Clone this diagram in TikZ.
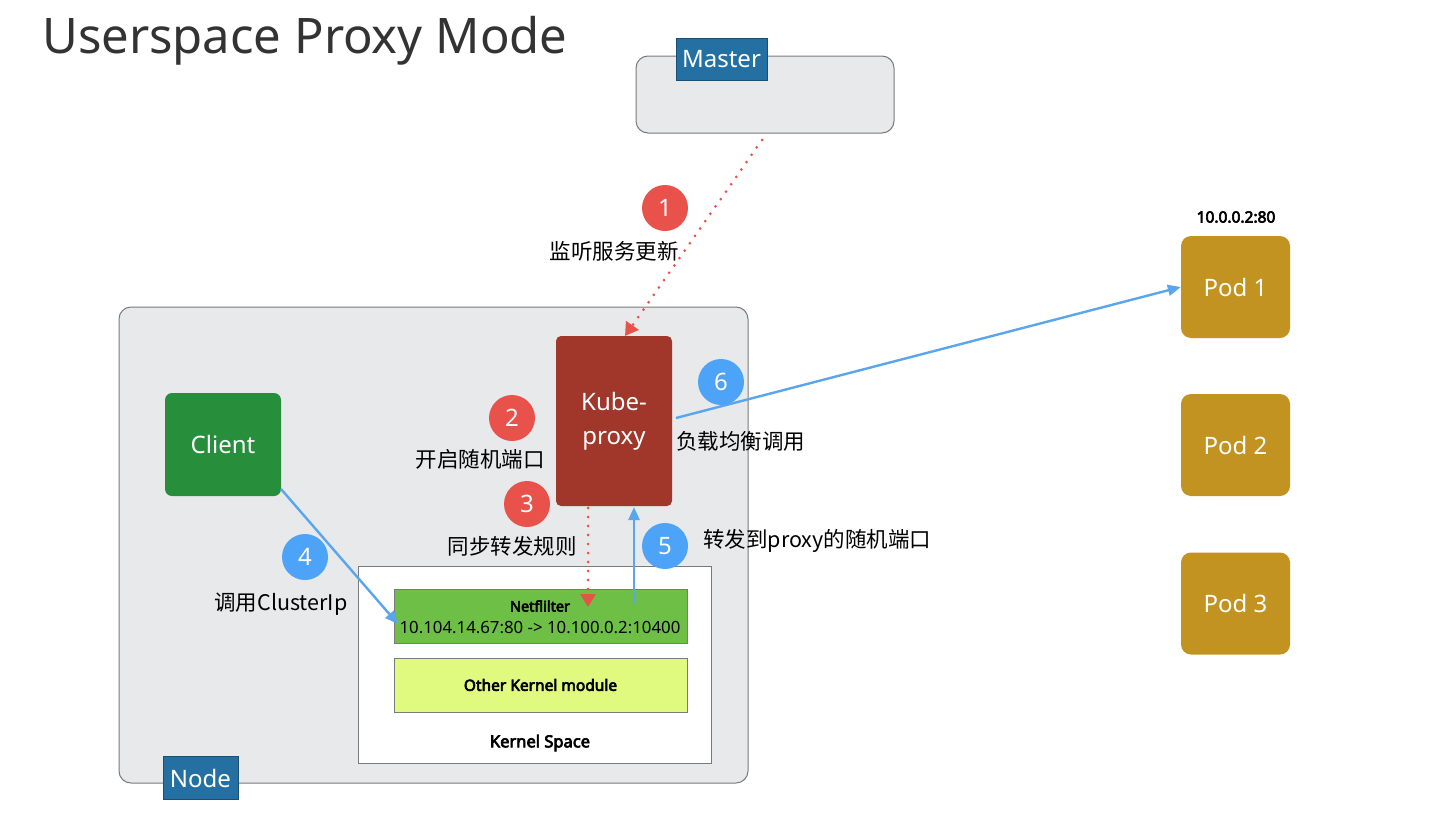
\documentclass[tikz,border=0pt]{standalone}
\usepackage{fontspec}
\setmainfont{Noto Sans}
\newfontfamily\cjk{Noto Sans CJK SC}
\newfontfamily\boldsans{Noto Sans}[FakeBold=4]
\usetikzlibrary{arrows.meta}
\definecolor{panel}{HTML}{E8E9EB}
\definecolor{edge}{HTML}{7A7A7A}
\definecolor{tagblue}{HTML}{2570A3}
\definecolor{clientgreen}{HTML}{278E3C}
\definecolor{proxyred}{HTML}{A0372A}
\definecolor{podgold}{HTML}{C39322}
\definecolor{badgered}{HTML}{E8524A}
\definecolor{badgeblue}{HTML}{4DA3F7}
\definecolor{linkblue}{HTML}{5AA6EE}
\definecolor{nfgreen}{HTML}{6DBF45}
\definecolor{kmyellow}{HTML}{E0FA80}
\definecolor{titlegray}{HTML}{333333}
\tikzset{
  panelbox/.style={draw=edge, line width=1pt, fill=panel, rounded corners=12pt},
  tagbox/.style={fill=tagblue, text=white, font=\fontsize{24}{26}\selectfont, inner sep=0pt, draw=tagblue!70!black, line width=0.4pt},
  solidbox/.style={rounded corners=7pt, text=white, font=\fontsize{24}{34}\selectfont, align=center, inner sep=0pt},
  badge/.style={circle, minimum size=46pt, inner sep=0pt, text=white, font=\fontsize{24}{24}\selectfont},
  lbl/.style={font=\cjk\fontsize{21.5}{24}\selectfont, inner sep=0pt},
  redflow/.style={draw=badgered, line width=3pt, dash pattern=on 0pt off 9pt, line cap=round, -{Triangle[length=13pt,width=15pt,fill=badgered,line cap=butt]}},
  blueflow/.style={draw=linkblue, line width=2.4pt, -{Triangle[length=13pt,width=11pt,fill=linkblue]}},
}
\begin{document}
\begin{tikzpicture}[x=1pt, y=-1pt]
\useasboundingbox (0,0) rectangle (1450,835);
% title
\node[anchor=base west, inner sep=0pt, text=titlegray, font=\fontsize{49}{56}\selectfont] (title) at (42,53) {Userspace Proxy Mode};
% master
\path[panelbox] (636,56) rectangle (894,133);
\node[tagbox, minimum width=91pt, minimum height=42pt] (master) at (721.5,59) {Master};
\coordinate (mout) at (762,140);
% node panel
\path[panelbox] (119,307) rectangle (748,783);
% kernel space
\path[draw=edge, line width=1pt, fill=white] (358,566) rectangle (711,763);
\node[font=\boldsans\fontsize{16.5}{18}\selectfont] (ks) at (540,743) {Kernel Space};
\node[draw=edge, line width=1pt, fill=nfgreen, minimum width=293pt, minimum height=54pt, inner sep=0pt] (nf) at (540.5,616) {};
\node[font=\boldsans\fontsize{14.5}{16}\selectfont] (nft) at (540,606) {Netflilter};
\node[font=\fontsize{16.8}{18}\selectfont] (nfr) at (540,628) {10.104.14.67:80 -> 10.100.0.2:10400};
\node[draw=edge, line width=1pt, fill=kmyellow, minimum width=293pt, minimum height=54pt, inner sep=0pt, font=\boldsans\fontsize{15.5}{18}\selectfont] (km) at (540.5,685) {Other Kernel module};
\node[tagbox, minimum width=75pt, minimum height=43pt] (nodetag) at (200.5,778) {Node};
% client & kube-proxy
\node[solidbox, fill=clientgreen, minimum width=116pt, minimum height=103pt] (client) at (223,444.5) {Client};
\node[solidbox, fill=proxyred, minimum width=116pt, minimum height=170pt, rounded corners=5pt] (proxy) at (614,421) {Kube-\\proxy};
% pods
\node[solidbox, fill=podgold, minimum width=109pt, minimum height=102pt, rounded corners=10pt] (pod1) at (1235.5,287) {Pod 1};
\node[solidbox, fill=podgold, minimum width=109pt, minimum height=102pt, rounded corners=10pt] (pod2) at (1235.5,445) {Pod 2};
\node[solidbox, fill=podgold, minimum width=109pt, minimum height=102pt, rounded corners=10pt] (pod3) at (1235.5,603.5) {Pod 3};
\node[font=\boldsans\fontsize{15.5}{18}\selectfont] (podip) at (1236,217) {10.0.0.2:80};
% connectors
\coordinate (pin) at (625,336);
\draw[redflow] (mout) -- (pin);
\coordinate (p3a) at (588,508);
\coordinate (p3b) at (588,607);
\draw[redflow] (p3a) -- (p3b);
\coordinate (p5a) at (634,604);
\coordinate (p5b) at (634,507);
\draw[blueflow] (p5a) -- (p5b);
\coordinate (p6a) at (676,418);
\draw[blueflow] (p6a) -- (pod1.west);
\coordinate (p4a) at (281,489);
\coordinate (p4b) at (398,624);
\draw[blueflow] (p4a) -- (p4b);
% badges and labels
\node[badge, fill=badgered] (b1) at (665,208) {1};
\node[lbl] (l1) at (614,251) {监听服务更新};
\node[badge, fill=badgered] (b2) at (512,418) {2};
\node[lbl] (l2) at (480,459) {开启随机端口};
\node[badge, fill=badgered] (b3) at (527,504) {3};
\node[lbl] (l3) at (512,546) {同步转发规则};
\node[badge, fill=badgeblue] (b4) at (305,557) {4};
\node[lbl] (l4) at (281,604) {调用ClusterIp};
\node[badge, fill=badgeblue] (b5) at (665,546) {5};
\node[lbl, anchor=west] (l5) at (703,541) {转发到proxy的随机端口};
\node[badge, fill=badgeblue] (b6) at (721,382) {6};
\node[lbl, anchor=west] (l6) at (676,441) {负载均衡调用};
\end{tikzpicture}
\end{document}
